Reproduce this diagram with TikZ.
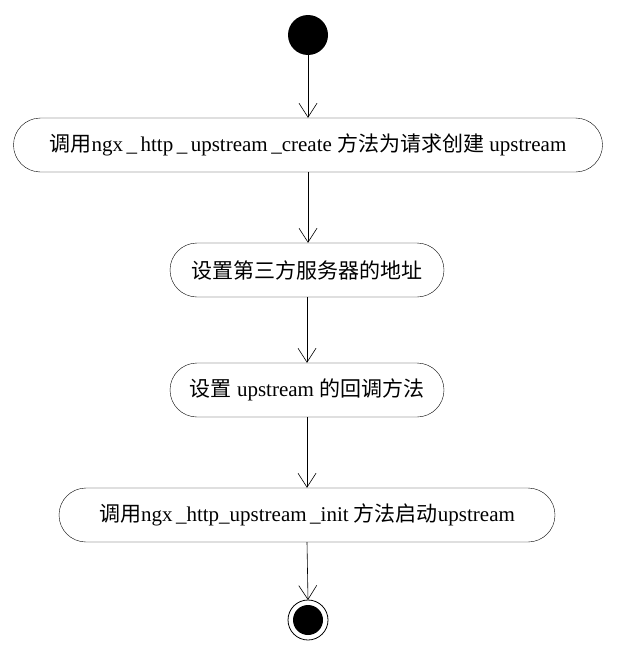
\documentclass[tikz,border=0pt]{standalone}
\usepackage{fontspec}
\setmainfont{Liberation Serif}
\newfontfamily\cjk{Noto Sans CJK SC}
\usetikzlibrary{arrows.meta,shapes.misc}

\tikzset{
  act/.style={draw, rounded rectangle, minimum height=54pt, inner xsep=4pt,
    font=\fontsize{21}{24}\selectfont},
  flow/.style={-{Straight Barb[length=14pt,width=18pt]}, line width=0.6pt}
}

\begin{document}
\begin{tikzpicture}[x=1pt,y=-1pt]
    \useasboundingbox (0,0) rectangle (618,653);
    \fill (308,35) circle (20) coordinate (start);
    \node[act, minimum width=597pt] (create) at (308,145)
      {{\cjk 调用}ngx\,\_\,http\,\_\,upstream\,\_create {\cjk 方法为请求创建} upstream};
    \node[act, minimum width=282pt] (addr) at (307,270) {\cjk 设置第三方服务器的地址};
    \node[act, minimum width=282pt] (cb) at (307,390) {{\cjk 设置} upstream {\cjk 的回调方法}};
    \node[act, minimum width=504pt] (init) at (307,515)
      {{\cjk 调用}ngx\,\_http\_upstream\,\_init {\cjk 方法启动}upstream};
    \draw[line width=0.8pt] (308,620) circle (20);
    \fill (308,620) circle (15);
    \coordinate (stop) at (308,600);
    \draw[flow] (308,55) -- (create.north);
    \draw[flow] (create.south) -- (addr.north -| create.south);
    \draw[flow] (addr) ++(0,27) -- (cb.north);
    \draw[flow] (cb.south) -- (init.north);
    \draw[flow] (init.south) -- (stop);
\end{tikzpicture}
\end{document}
